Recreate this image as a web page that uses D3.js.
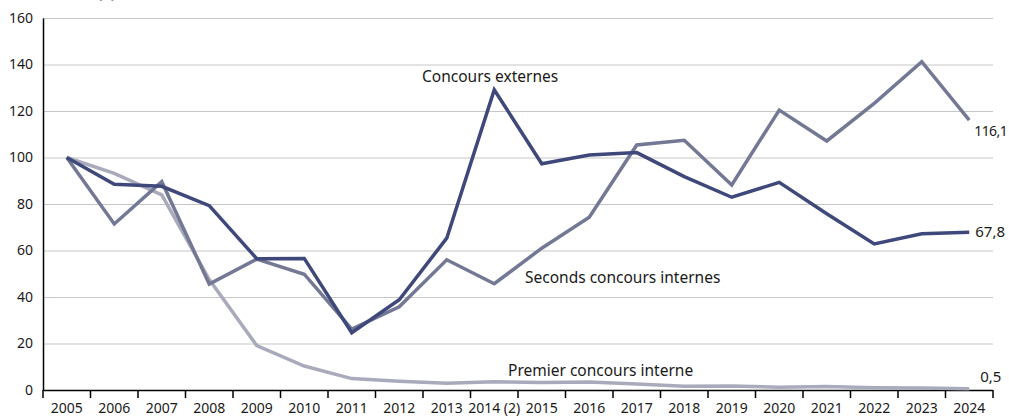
<!DOCTYPE html>
<html>
<head>
<meta charset="utf-8">
<script src="https://d3js.org/d3.v7.min.js"></script>
<style>
body { margin: 0; background: #fff; }
svg text { font-family: "Noto Sans", "Open Sans", sans-serif; fill: #1a1a1a; }
</style>
</head>
<body>
<script>
var years = ["2005","2006","2007","2008","2009","2010","2011","2012","2013","2014 (2)",
             "2015","2016","2017","2018","2019","2020","2021","2022","2023","2024"];
var yTicks = [0, 20, 40, 60, 80, 100, 120, 140, 160];

var externes = [100, 88.5, 87.6, 79.3, 56.5, 56.6, 24.6, 38.8, 65.3, 129.1,
                97.3, 101.1, 102.1, 91.8, 82.9, 89.3, 75.8, 62.8, 67.2, 67.8];
var secondsInternes = [100, 71.4, 89.6, 45.6, 56.3, 49.8, 26.2, 35.8, 56, 45.7,
                       61, 74.3, 105.4, 107.4, 88.2, 120.4, 107.1, 123.3, 141.2, 116.1];
var premierInterne = [100, 93.2, 83.9, 47.5, 19.1, 10.3, 4.9, 3.8, 2.9, 3.6,
                      3.2, 3.4, 2.6, 1.6, 1.7, 1.2, 1.5, 1.0, 0.9, 0.5];

var w = 1009, h = 416;
var mLeft = 43, mRight = 993, mTop = 18, mBottom = 390;

var svg = d3.select("body").append("svg")
    .attr("width", w)
    .attr("height", h);

var x = d3.scaleBand().domain(years).range([mLeft, mRight]);
var y = d3.scaleLinear().domain([0, 160]).range([mBottom, mTop]);

// title, cut off by the top edge like in the original
svg.append("text")
    .attr("x", 47).attr("y", -2)
    .attr("font-size", 15).attr("font-weight", "bold")
    .text("Indice (1)");

// grid
svg.append("g")
    .selectAll("line")
    .data(yTicks.filter(function(d) { return d > 0; }))
    .enter().append("line")
    .attr("x1", mLeft).attr("x2", mRight)
    .attr("y1", function(d) { return y(d) + 0.5; })
    .attr("y2", function(d) { return y(d) + 0.5; })
    .attr("stroke", "#c6c6c6")
    .attr("stroke-width", 1);

// y axis
var yAxis = svg.append("g")
    .attr("transform", "translate(" + mLeft + ",0)")
    .call(d3.axisLeft(y).tickValues(yTicks).tickSize(0).tickPadding(10));
yAxis.select(".domain").attr("stroke", "#000").attr("stroke-width", 1.5);
yAxis.selectAll("text").attr("font-size", 14).attr("fill", "#1a1a1a")
    .style("font-family", '"Noto Sans", sans-serif');

// x axis, ticks on band edges
var xg = svg.append("g").attr("transform", "translate(0," + mBottom + ")");
xg.append("line")
    .attr("x1", mLeft).attr("x2", mRight)
    .attr("y1", 0.5).attr("y2", 0.5)
    .attr("stroke", "#000").attr("stroke-width", 1.5);
var edges = years.map(function(d) { return x(d); }).concat([mRight]);
xg.selectAll(".tk").data(edges).enter().append("line")
    .attr("class", "tk")
    .attr("x1", function(d) { return d; }).attr("x2", function(d) { return d; })
    .attr("y1", 0).attr("y2", 8)
    .attr("stroke", "#000").attr("stroke-width", 1.5);
xg.selectAll(".lb").data(years).enter().append("text")
    .attr("class", "lb")
    .attr("x", function(d) { return x(d) + x.bandwidth() / 2; })
    .attr("y", 23)
    .attr("text-anchor", "middle")
    .attr("font-size", 14)
    .text(function(d) { return d; });

var line = d3.line()
    .x(function(d, i) { return x(years[i]) + x.bandwidth() / 2; })
    .y(function(d) { return y(d); });

var series = [
    { values: premierInterne, color: "#a9abbc" },
    { values: secondsInternes, color: "#737894" },
    { values: externes, color: "#3e487a" }
];

svg.selectAll(".serie").data(series).enter().append("path")
    .attr("class", "serie")
    .attr("d", function(d) { return line(d.values); })
    .attr("fill", "none")
    .attr("stroke", function(d) { return d.color; })
    .attr("stroke-width", 3.5)
    .attr("stroke-linejoin", "miter");

// series names
svg.append("text").attr("x", 422).attr("y", 82).attr("font-size", 15.5).text("Concours externes");
svg.append("text").attr("x", 525).attr("y", 283).attr("font-size", 15.5).text("Seconds concours internes");
svg.append("text").attr("x", 508).attr("y", 376).attr("font-size", 15.5).text("Premier concours interne");

// end values
var last = years[years.length - 1];
var xEnd = x(last) + x.bandwidth() / 2;
svg.append("text").attr("x", xEnd + 5).attr("y", y(116.1) + 16).attr("font-size", 14)
    .attr("letter-spacing", -0.6).text("116,1");
svg.append("text").attr("x", xEnd + 6).attr("y", y(67.8) + 5).attr("font-size", 15).text("67,8");
svg.append("text").attr("x", xEnd + 11).attr("y", y(0.5) - 7).attr("font-size", 15).text("0,5");
</script>
</body>
</html>
